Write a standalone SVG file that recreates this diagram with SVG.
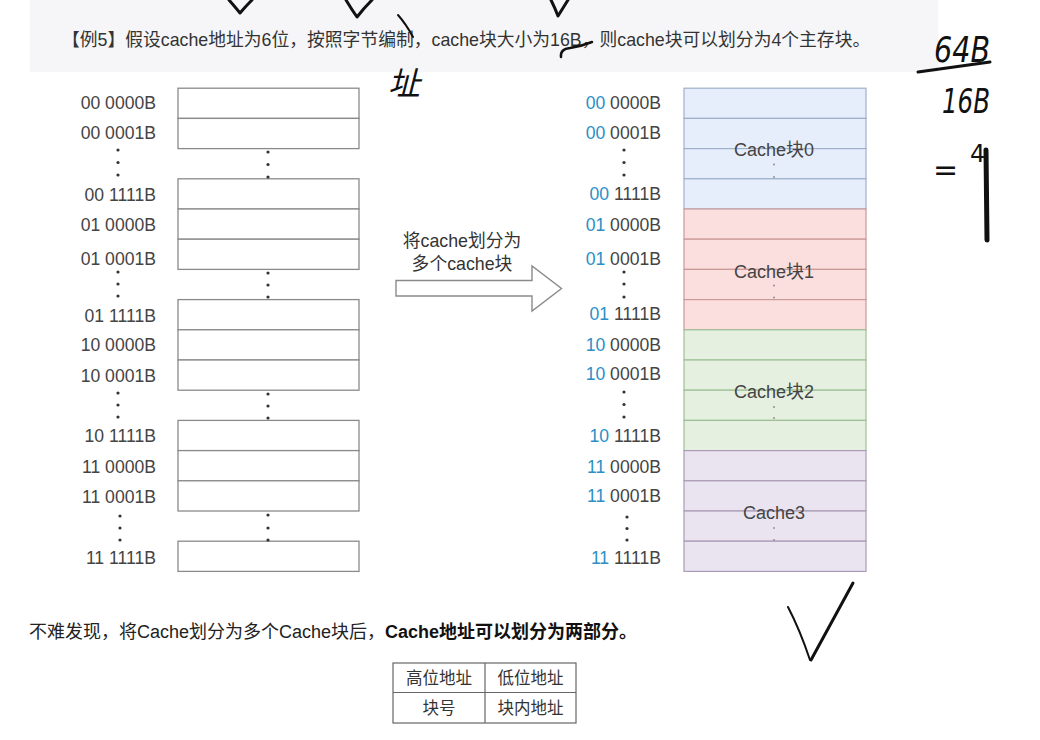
<svg xmlns="http://www.w3.org/2000/svg" width="1040" height="740" viewBox="0 0 1040 740">
<style>
text{font-family:"Liberation Sans","Noto Sans CJK SC",sans-serif;}
.hd{font-size:17.8px;fill:#333;}
.lb{font-size:17.6px;fill:#444;text-anchor:end;}
.pf{fill:#2b8fc7;}
.cell{fill:#fff;stroke:#8a8a8a;stroke-width:1.3;}
.dot{fill:#333;}
.sdot{fill:#999;}
.blk{font-size:18px;fill:#444;text-anchor:middle;}
.b0{fill:#e7eefb;stroke:#9fb0cc;stroke-width:1.2;}
.b1{fill:#fbdede;stroke:#c99a98;stroke-width:1.2;}
.b2{fill:#e5f0e1;stroke:#9fc096;stroke-width:1.2;}
.b3{fill:#eae4f1;stroke:#ab9bb6;stroke-width:1.2;}
.ink{fill:none;stroke:#111;stroke-linecap:round;stroke-linejoin:round;}
.hw{font-family:"DejaVu Sans","Noto Sans CJK SC",sans-serif;fill:#111;}
.tb{font-size:16.5px;fill:#333;text-anchor:middle;}
</style>
<rect x="0" y="0" width="1040" height="740" fill="#fff"/>
<rect x="30" y="0" width="908" height="72" fill="#f6f6f8"/>
<g id="title">
<text class="hd" x="62" y="46">【例5】假设cache地址为6位，按照字节编制，cache块大小为16B，则cache块可以划分为4个主存块。</text>
</g>

<g id="left-memory">
<rect class="cell" x="178" y="88.2" width="181" height="30.2"/>
<rect class="cell" x="178" y="118.4" width="181" height="30.2"/>
<rect class="cell" x="178" y="178.8" width="181" height="30.2"/>
<rect class="cell" x="178" y="209" width="181" height="30.2"/>
<rect class="cell" x="178" y="239.2" width="181" height="30.2"/>
<rect class="cell" x="178" y="299.6" width="181" height="30.2"/>
<rect class="cell" x="178" y="329.8" width="181" height="30.2"/>
<rect class="cell" x="178" y="360" width="181" height="30.2"/>
<rect class="cell" x="178" y="420.4" width="181" height="30.2"/>
<rect class="cell" x="178" y="450.6" width="181" height="30.2"/>
<rect class="cell" x="178" y="480.8" width="181" height="30.2"/>
<rect class="cell" x="178" y="541.2" width="181" height="30.2"/>
<circle class="dot" cx="268" cy="152" r="1.6"/><circle class="dot" cx="268" cy="164.5" r="1.6"/><circle class="dot" cx="268" cy="177" r="1.6"/>
<circle class="dot" cx="268" cy="273" r="1.6"/><circle class="dot" cx="268" cy="285" r="1.6"/><circle class="dot" cx="268" cy="297" r="1.6"/>
<circle class="dot" cx="268" cy="394" r="1.6"/><circle class="dot" cx="268" cy="406" r="1.6"/><circle class="dot" cx="268" cy="418" r="1.6"/>
<circle class="dot" cx="268" cy="515" r="1.6"/><circle class="dot" cx="268" cy="528" r="1.6"/><circle class="dot" cx="268" cy="540" r="1.6"/>
</g>

<g id="left-labels">
<text class="lb" x="156" y="109">00 0000B</text>
<text class="lb" x="156" y="139">00 0001B</text>
<text class="lb" x="156" y="200.5">00 1111B</text>
<text class="lb" x="156" y="230.5">01 0000B</text>
<text class="lb" x="156" y="264.5">01 0001B</text>
<text class="lb" x="156" y="321.5">01 1111B</text>
<text class="lb" x="156" y="350.5">10 0000B</text>
<text class="lb" x="156" y="381.5">10 0001B</text>
<text class="lb" x="156" y="441.5">10 1111B</text>
<text class="lb" x="156" y="472.5">11 0000B</text>
<text class="lb" x="156" y="502.5">11 0001B</text>
<text class="lb" x="156" y="563.5">11 1111B</text>
<circle class="dot" cx="118" cy="150" r="1.6"/><circle class="dot" cx="118" cy="162.5" r="1.6"/><circle class="dot" cx="118" cy="175" r="1.6"/>
<circle class="dot" cx="118" cy="272" r="1.6"/><circle class="dot" cx="118" cy="284" r="1.6"/><circle class="dot" cx="118" cy="296" r="1.6"/>
<circle class="dot" cx="118" cy="393" r="1.6"/><circle class="dot" cx="118" cy="405" r="1.6"/><circle class="dot" cx="118" cy="417" r="1.6"/>
<circle class="dot" cx="120" cy="516" r="1.6"/><circle class="dot" cx="120" cy="528" r="1.6"/><circle class="dot" cx="120" cy="540" r="1.6"/>
</g>

<g id="connectors">
<path d="M396 280.5 H532 V266 L561.5 288.5 L532 311 V296 H396 Z" fill="#fff" stroke="#8a8a8a" stroke-width="1.4" stroke-linejoin="miter"/>
<text x="462" y="247" font-size="17.8" fill="#333" text-anchor="middle">将cache划分为</text>
<text x="462" y="269.5" font-size="17.8" fill="#333" text-anchor="middle">多个cache块</text>
</g>

<g id="cache-block-0">
<rect class="b0" x="684" y="88.2" width="182" height="30.2"/>
<rect class="b0" x="684" y="118.4" width="182" height="30.2"/>
<rect class="b0" x="684" y="148.6" width="182" height="30.2"/>
<rect class="b0" x="684" y="178.8" width="182" height="30.2"/>
<text class="blk" x="774" y="156">Cache块0</text>
<circle class="sdot" cx="774" cy="164.5" r="1.1"/><circle class="sdot" cx="774" cy="177" r="1.1"/>
</g>
<g id="cache-block-1">
<rect class="b1" x="684" y="209" width="182" height="30.2"/>
<rect class="b1" x="684" y="239.2" width="182" height="30.2"/>
<rect class="b1" x="684" y="269.4" width="182" height="30.2"/>
<rect class="b1" x="684" y="299.6" width="182" height="30.2"/>
<text class="blk" x="774" y="277.5">Cache块1</text>
<circle class="sdot" cx="774" cy="285.5" r="1.1"/><circle class="sdot" cx="774" cy="297.5" r="1.1"/>
</g>
<g id="cache-block-2">
<rect class="b2" x="684" y="329.8" width="182" height="30.2"/>
<rect class="b2" x="684" y="360" width="182" height="30.2"/>
<rect class="b2" x="684" y="390.2" width="182" height="30.2"/>
<rect class="b2" x="684" y="420.4" width="182" height="30.2"/>
<text class="blk" x="774" y="398">Cache块2</text>
<circle class="sdot" cx="774" cy="407" r="1.1"/><circle class="sdot" cx="774" cy="418" r="1.1"/>
</g>
<g id="cache-block-3">
<rect class="b3" x="684" y="450.6" width="182" height="30.2"/>
<rect class="b3" x="684" y="480.8" width="182" height="30.2"/>
<rect class="b3" x="684" y="511" width="182" height="30.2"/>
<rect class="b3" x="684" y="541.2" width="182" height="30.2"/>
<text class="blk" x="774" y="519">Cache3</text>
<circle class="sdot" cx="774" cy="528" r="1.1"/><circle class="sdot" cx="774" cy="540" r="1.1"/>
</g>

<g id="right-labels">
<text class="lb" x="661" y="109"><tspan class="pf">00</tspan> 0000B</text>
<text class="lb" x="661" y="139"><tspan class="pf">00</tspan> 0001B</text>
<text class="lb" x="661" y="199.5"><tspan class="pf">00</tspan> 1111B</text>
<text class="lb" x="661" y="230.5"><tspan class="pf">01</tspan> 0000B</text>
<text class="lb" x="661" y="264.5"><tspan class="pf">01</tspan> 0001B</text>
<text class="lb" x="661" y="319.5"><tspan class="pf">01</tspan> 1111B</text>
<text class="lb" x="661" y="351"><tspan class="pf">10</tspan> 0000B</text>
<text class="lb" x="661" y="379.5"><tspan class="pf">10</tspan> 0001B</text>
<text class="lb" x="661" y="441.5"><tspan class="pf">10</tspan> 1111B</text>
<text class="lb" x="661" y="472.5"><tspan class="pf">11</tspan> 0000B</text>
<text class="lb" x="661" y="501.5"><tspan class="pf">11</tspan> 0001B</text>
<text class="lb" x="661" y="563.5"><tspan class="pf">11</tspan> 1111B</text>
<circle class="dot" cx="624" cy="150" r="1.6"/><circle class="dot" cx="624" cy="162.5" r="1.6"/><circle class="dot" cx="624" cy="175" r="1.6"/>
<circle class="dot" cx="624" cy="272" r="1.6"/><circle class="dot" cx="624" cy="284" r="1.6"/><circle class="dot" cx="624" cy="297" r="1.6"/>
<circle class="dot" cx="624" cy="392" r="1.6"/><circle class="dot" cx="624" cy="404.5" r="1.6"/><circle class="dot" cx="624" cy="417" r="1.6"/>
<circle class="dot" cx="627" cy="517" r="1.6"/><circle class="dot" cx="627" cy="528.5" r="1.6"/><circle class="dot" cx="627" cy="540" r="1.6"/>
</g>

<g id="conclusion">
<text x="29" y="638" font-size="18" fill="#222">不难发现，将Cache划分为多个Cache块后，<tspan font-weight="bold" fill="#111">Cache地址可以划分为两部分。</tspan></text>
</g>

<g id="address-table">
<rect x="393" y="663" width="183" height="60" fill="#fff" stroke="#666" stroke-width="1.2"/>
<line x1="485" y1="663" x2="485" y2="723" stroke="#666" stroke-width="1.2"/>
<line x1="393" y1="692.5" x2="576" y2="692.5" stroke="#666" stroke-width="1.2"/>
<text class="tb" x="439" y="684">高位地址</text>
<text class="tb" x="530.5" y="684">低位地址</text>
<text class="tb" x="439" y="714">块号</text>
<text class="tb" x="530.5" y="714">块内地址</text>
</g>

<g id="handwriting">
<path class="ink" stroke-width="3" d="M229 0 Q236 8 240 13 Q246 6 252 0"/>
<path class="ink" stroke-width="3" d="M346 0 Q352 10 357 17 Q364 8 372 0"/>
<path class="ink" stroke-width="3" d="M551 0 Q555 8 558 16 Q563 8 568 0"/>
<path class="ink" stroke-width="2" d="M398 15 Q406 24 413 37"/>
<text class="hw" x="388" y="95" font-size="32" font-style="italic">址</text>
<path class="ink" stroke-width="2.5" d="M561 57 Q560 49 570 48 Q582 46 592 42"/>
<text class="hw" x="934" y="62" font-size="36" font-style="italic" textLength="56" lengthAdjust="spacingAndGlyphs">64B</text>
<path class="ink" stroke-width="3" d="M918 72 Q955 67 990 62"/>
<text class="hw" x="942" y="113" font-size="34" font-style="italic" textLength="48" lengthAdjust="spacingAndGlyphs">16B</text>
<text class="hw" x="933" y="180" font-size="30">=</text>
<text class="hw" x="970" y="162" font-size="24">4</text>
<path class="ink" stroke-width="5" d="M986 150 L987 240"/>
<path class="ink" stroke-width="3" d="M811 660 Q830 625 853 583"/>
<path class="ink" stroke-width="2" d="M788 607 Q800 630 810 660"/>
</g>
</svg>
